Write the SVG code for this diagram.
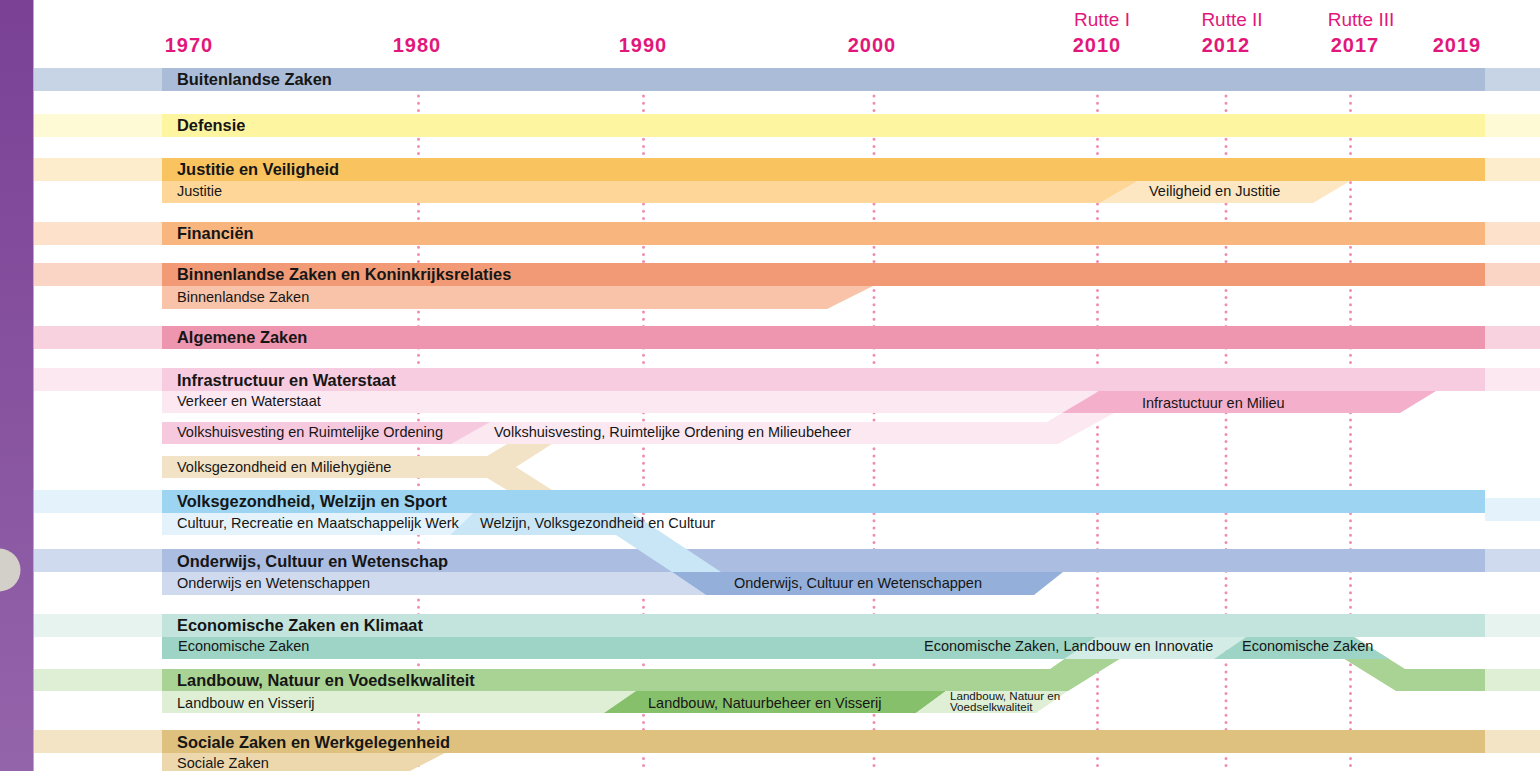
<svg xmlns="http://www.w3.org/2000/svg" width="1540" height="771" viewBox="0 0 1540 771">
<defs>
<linearGradient id="purple" x1="0" y1="0" x2="0" y2="1">
<stop offset="0" stop-color="#7a4195"/>
<stop offset="1" stop-color="#9464aa"/>
</linearGradient>
</defs>
<style>
.t{font-family:"Liberation Sans",Arial,sans-serif;fill:#161616}
.b{font-size:16.4px;font-weight:bold}
.s{font-size:14.5px}
.xs{font-size:11.6px}
.yr{font-family:"Liberation Sans",Arial,sans-serif;font-size:20px;font-weight:bold;fill:#e2177b;text-anchor:middle;letter-spacing:1px}
.ru{font-family:"Liberation Sans",Arial,sans-serif;font-size:19px;fill:#e2177b;text-anchor:middle}
.grid line{stroke:#ef8db0;stroke-width:3;stroke-linecap:round;stroke-dasharray:0 7.2}
</style>
<rect width="1540" height="771" fill="#ffffff"/>
<g id="sidebar">
<rect x="0" y="0" width="33" height="771" fill="url(#purple)"/>
<rect x="33" y="0" width="1" height="771" fill="#c2a3d1"/>
<circle cx="-1" cy="570" r="21.5" fill="#d3cfc9"/>
</g>
<g id="timeline">
<text class="ru" x="1102" y="26">Rutte I</text>
<text class="ru" x="1232" y="26">Rutte II</text>
<text class="ru" x="1361" y="26">Rutte III</text>
<text class="yr" x="189" y="52">1970</text>
<text class="yr" x="417" y="52">1980</text>
<text class="yr" x="643" y="52">1990</text>
<text class="yr" x="872" y="52">2000</text>
<text class="yr" x="1097" y="52">2010</text>
<text class="yr" x="1226" y="52">2012</text>
<text class="yr" x="1355" y="52">2017</text>
<text class="yr" x="1457" y="52">2019</text>
</g>
<g id="connectors" class="grid">
<line x1="418.5" y1="96" x2="418.5" y2="771"/>
<line x1="643.5" y1="96" x2="643.5" y2="771"/>
<line x1="874" y1="96" x2="874" y2="771"/>
<line x1="1097.5" y1="96" x2="1097.5" y2="771"/>
<line x1="1226" y1="96" x2="1226" y2="771"/>
<line x1="1350.5" y1="96" x2="1350.5" y2="771"/>
</g>
<g id="bz">
<rect x="34" y="68" width="128" height="23" fill="#c7d4e5"/>
<rect x="1485" y="68" width="55" height="23" fill="#c7d4e5"/>
<rect x="162" y="68" width="1323" height="23" fill="#aabcd7"/>
<text class="t b" x="177" y="85">Buitenlandse Zaken</text>
</g>
<g id="def">
<rect x="34" y="114" width="128" height="23" fill="#fefad6"/>
<rect x="1485" y="114" width="55" height="23" fill="#fefad6"/>
<rect x="162" y="114" width="1323" height="23" fill="#fdf5a0"/>
<text class="t b" x="177" y="131">Defensie</text>
</g>
<g id="jenv">
<rect x="34" y="158" width="128" height="23" fill="#fdedcc"/>
<rect x="1485" y="158" width="55" height="23" fill="#fdedcc"/>
<rect x="162" y="158" width="1323" height="23" fill="#f9c45f"/>
<polygon points="162,181 1138,181 1100,203 162,203" fill="#fdd698"/>
<polygon points="1138,181 1350,181 1313,203 1100,203" fill="#fde7c2"/>
<text class="t b" x="177" y="175">Justitie en Veiligheid</text>
<text class="t s" x="177" y="196">Justitie</text>
<text class="t s" x="1149" y="196">Veiligheid en Justitie</text>
</g>
<g id="fin">
<rect x="34" y="222" width="128" height="23" fill="#fde1cb"/>
<rect x="1485" y="222" width="55" height="23" fill="#fde1cb"/>
<rect x="162" y="222" width="1323" height="23" fill="#f8b57e"/>
<text class="t b" x="177" y="239">Financiën</text>
</g>
<g id="bzk">
<rect x="34" y="263" width="128" height="23" fill="#fad4c4"/>
<rect x="1485" y="263" width="55" height="23" fill="#fad4c4"/>
<rect x="162" y="263" width="1323" height="23" fill="#f29a75"/>
<polygon points="162,286 873,286 827,309 162,309" fill="#f8c3a8"/>
<text class="t b" x="177" y="280">Binnenlandse Zaken en Koninkrijksrelaties</text>
<text class="t s" x="177" y="302">Binnenlandse Zaken</text>
</g>
<g id="az">
<rect x="34" y="326" width="128" height="23" fill="#f8d3df"/>
<rect x="1485" y="326" width="55" height="23" fill="#f8d3df"/>
<rect x="162" y="326" width="1323" height="23" fill="#ee95af"/>
<text class="t b" x="177" y="343">Algemene Zaken</text>
</g>
<g id="ienw">
<rect x="34" y="368" width="128" height="23" fill="#fce8f1"/>
<rect x="1485" y="368" width="55" height="23" fill="#fce8f1"/>
<rect x="162" y="368" width="1323" height="23" fill="#f7cbe0"/>
<polygon points="162,391 1099,391 1062,413 162,413" fill="#fbe8f1"/>
<polygon points="162,456 487,456 507,444 552,444 516,467 552,490 507,490 487,478 162,478" fill="#f3e3c6"/>
<polygon points="440,422 1047,422 1062,413 1114,413 1058,444 440,444" fill="#fbe8f1"/>
<polygon points="162,422 490,422 451,444 162,444" fill="#f6c9de"/>
<polygon points="1099,391 1436,391 1400,413 1062,413" fill="#f4afcb"/>
<text class="t b" x="177" y="386">Infrastructuur en Waterstaat</text>
<text class="t s" x="177" y="406">Verkeer en Waterstaat</text>
<text class="t s" x="1142" y="408">Infrastuctuur en Milieu</text>
<text class="t s" x="177" y="437">Volkshuisvesting en Ruimtelijke Ordening</text>
<text class="t s" x="494" y="437">Volkshuisvesting, Ruimtelijke Ordening en Milieubeheer</text>
<text class="t s" x="177" y="472">Volksgezondheid en Miliehygiëne</text>
</g>
<g id="ocw">
<rect x="34" y="549" width="128" height="23" fill="#d0daee"/>
<rect x="1485" y="549" width="55" height="23" fill="#d0daee"/>
<rect x="162" y="549" width="1323" height="23" fill="#abbde0"/>
<polygon points="162,572 672,572 706,595 162,595" fill="#d0daee"/>
<polygon points="672,572 1063,572 1034,595 706,595" fill="#94afd9"/>
<text class="t b" x="177" y="567">Onderwijs, Cultuur en Wetenschap</text>
<text class="t s" x="177" y="588">Onderwijs en Wetenschappen</text>
<text class="t s" x="734" y="588">Onderwijs, Cultuur en Wetenschappen</text>
</g>
<g id="vws">
<rect x="34" y="490" width="128" height="23" fill="#e4f3fb"/>
<rect x="1485" y="498" width="55" height="23" fill="#e4f3fb"/>
<rect x="162" y="490" width="1323" height="23" fill="#9cd4f2"/>
<polygon points="162,513 473,513 450,535 162,535" fill="#e4f3fb"/>
<polygon points="473,513 632,513 721,572 672,572 616,535 450,535" fill="#c9e6f7"/>
<text class="t b" x="177" y="507">Volksgezondheid, Welzijn en Sport</text>
<text class="t s" x="177" y="528">Cultuur, Recreatie en Maatschappelijk Werk</text>
<text class="t s" x="480" y="528">Welzijn, Volksgezondheid en Cultuur</text>
</g>
<g id="lnv">
<rect x="34" y="669" width="128" height="22" fill="#deefd5"/>
<rect x="1485" y="669" width="55" height="22" fill="#deefd5"/>
<polygon points="162,669 1050,669 1096,637 1155,637 1068,691 162,691" fill="#a9d394"/>
<polygon points="1309,637 1354,637 1405,669 1485,669 1485,691 1396,691" fill="#a9d394"/>
<polygon points="162,691 636,691 604,713 162,713" fill="#deefd5"/>
<polygon points="636,691 946,691 916,713 604,713" fill="#86c06b"/>
<polygon points="946,691 1068,691 1036,713 916,713" fill="#deefd5"/>
<text class="t b" x="177" y="686">Landbouw, Natuur en Voedselkwaliteit</text>
<text class="t s" x="177" y="708">Landbouw en Visserij</text>
<text class="t s" x="648" y="708">Landbouw, Natuurbeheer en Visserij</text>
<text class="t xs" x="950" y="700">Landbouw, Natuur en</text>
<text class="t xs" x="950" y="711">Voedselkwaliteit</text>
</g>
<g id="ezk">
<rect x="34" y="614" width="128" height="23" fill="#e6f3ef"/>
<rect x="1485" y="614" width="55" height="23" fill="#e6f3ef"/>
<rect x="162" y="614" width="1323" height="23" fill="#c3e4dc"/>
<polygon points="162,637 1096,637 1064.4,659 162,659" fill="#9dd4c6"/>
<polygon points="1096,637 1246,637 1214,659 1064.4,659" fill="#d3ece5"/>
<polygon points="1246,637 1354,637 1389,659 1214,659" fill="#9dd4c6"/>
<text class="t b" x="177" y="631">Economische Zaken en Klimaat</text>
<text class="t s" x="178" y="651">Economische Zaken</text>
<text class="t s" x="924" y="651">Economische Zaken, Landbouw en Innovatie</text>
<text class="t s" x="1242" y="651">Economische Zaken</text>
</g>
<g id="szw">
<rect x="34" y="730" width="128" height="23" fill="#f3e4c6"/>
<rect x="1485" y="730" width="55" height="23" fill="#f3e4c6"/>
<rect x="162" y="730" width="1323" height="23" fill="#dfc17f"/>
<polygon points="162,753 445,753 410,771 162,771" fill="#edd8ae"/>
<text class="t b" x="177" y="748">Sociale Zaken en Werkgelegenheid</text>
<text class="t s" x="177" y="768">Sociale Zaken</text>
</g>
</svg>
